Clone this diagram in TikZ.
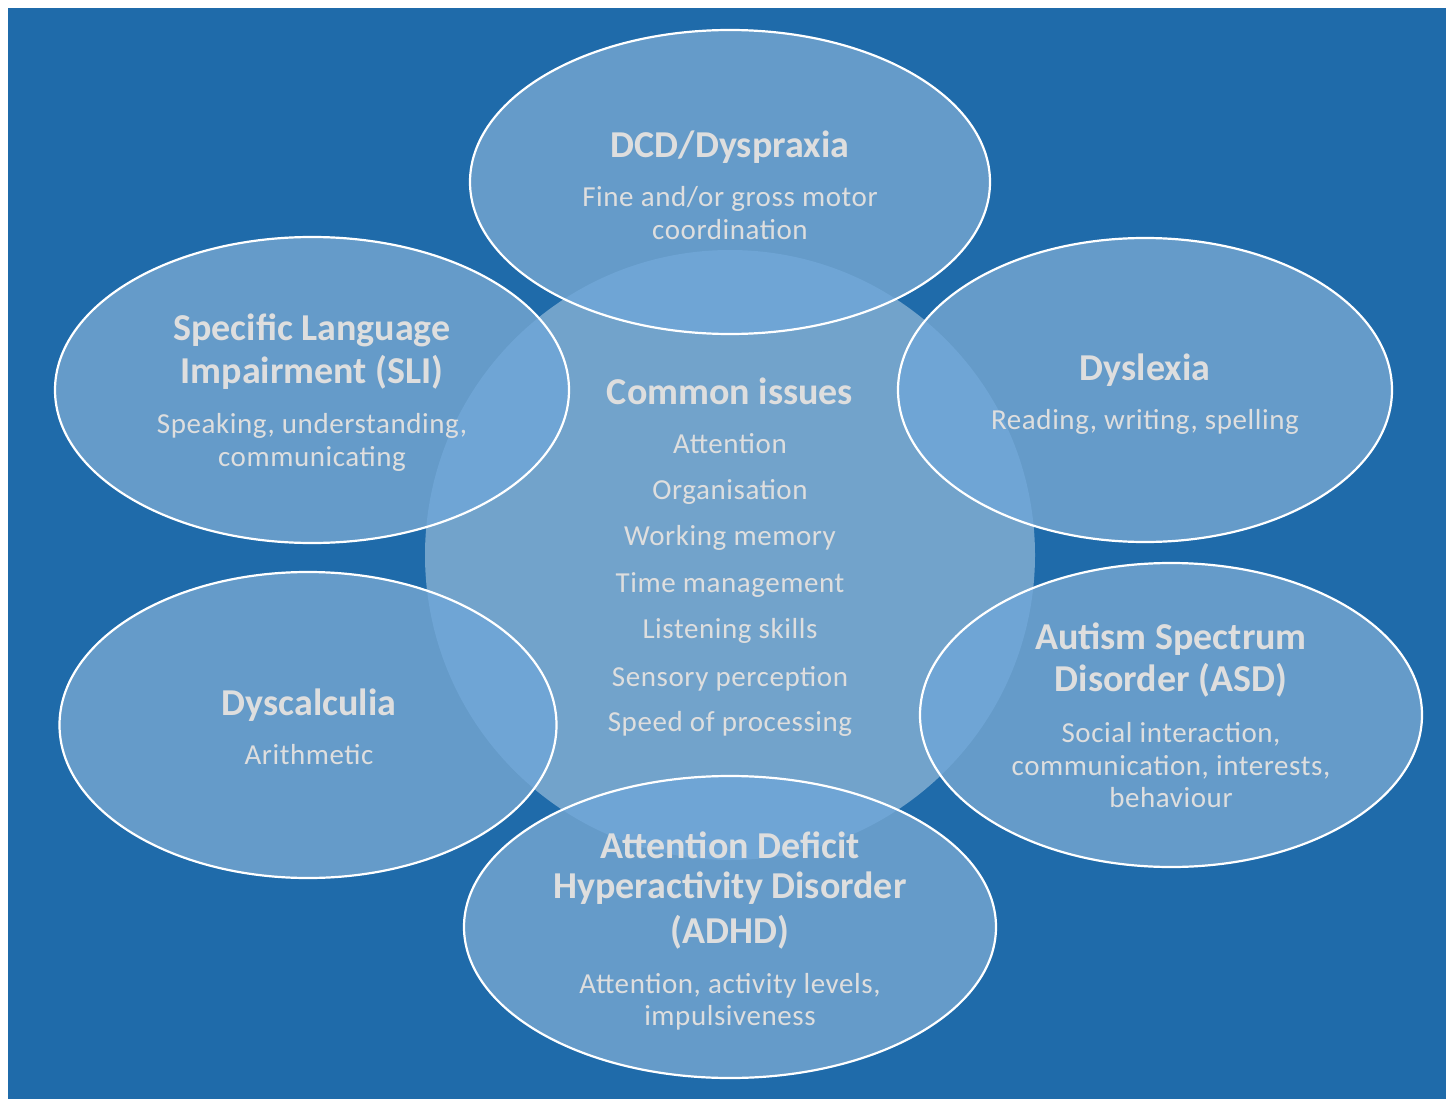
\documentclass[tikz,border=0pt]{standalone}
\usepackage{fontspec}
\setmainfont{Carlito}
\usetikzlibrary{shapes.geometric}
\definecolor{bgblue}{HTML}{1F6BAA}
\definecolor{ellblue}{HTML}{659BC9}
\definecolor{cirblue}{HTML}{72A3CB}
\definecolor{ovlblue}{HTML}{6FA5D5}
\definecolor{txtgray}{HTML}{DEDEDE}
\tikzset{
  bubble/.style={ellipse, inner sep=0pt, fill=ellblue},
  rim/.style={draw=white, line width=2.2pt},
  ttl/.style={anchor=base, inner sep=0pt, text=txtgray, font=\fontsize{38}{45}\selectfont\bfseries},
  sub/.style={anchor=base, inner sep=0pt, text=txtgray, font=\fontsize{29}{34}\selectfont\addfontfeature{LetterSpace=2}},
}
\begin{document}
\begin{tikzpicture}[x=1pt,y=-1pt]
\useasboundingbox (0,0) rectangle (1456,1099);
\fill[white] (0,0) rectangle (1456,1099);
\fill[bgblue] (8,8) rectangle (1446,1099);
% central circle
\node[circle, inner sep=0pt, minimum size=610pt, fill=cirblue] (core) at (730,555) {};
% bubbles
\node[bubble, minimum width=520pt, minimum height=304pt] (dcd) at (730,182) {};
\node[bubble, minimum width=514pt, minimum height=306pt] (sli) at (312,390) {};
\node[bubble, minimum width=494pt, minimum height=304pt] (dys) at (1145,390) {};
\node[bubble, minimum width=497pt, minimum height=306pt] (dyc) at (308,725) {};
\node[bubble, minimum width=502pt, minimum height=304pt] (asd) at (1171,715) {};
\node[bubble, minimum width=532pt, minimum height=302pt] (adhd) at (730,927) {};
% overlaps with the central circle
\begin{scope}
  \clip (core.center) circle (305);
  \fill[ovlblue] (dcd.center) ellipse [x radius=260, y radius=152];
  \fill[ovlblue] (sli.center) ellipse [x radius=257, y radius=153];
  \fill[ovlblue] (dys.center) ellipse [x radius=247, y radius=152];
  \fill[ovlblue] (dyc.center) ellipse [x radius=248.5, y radius=153];
  \fill[ovlblue] (asd.center) ellipse [x radius=251, y radius=152];
  \fill[ovlblue] (adhd.center) ellipse [x radius=266, y radius=151];
\end{scope}
% outlines on top
\draw[rim] (dcd.center) ellipse [x radius=260, y radius=152];
\draw[rim] (sli.center) ellipse [x radius=257, y radius=153];
\draw[rim] (dys.center) ellipse [x radius=247, y radius=152];
\draw[rim] (dyc.center) ellipse [x radius=248.5, y radius=153];
\draw[rim] (asd.center) ellipse [x radius=251, y radius=152];
\draw[rim] (adhd.center) ellipse [x radius=266, y radius=151];
% texts
\node[ttl] (t1) at (730,158) {DCD/Dyspraxia};
\node[sub] (s1a) at (730,207) {Fine and/or gross motor};
\node[sub] (s1b) at (730,240) {coordination};

\node[ttl] (t2a) at (312,340) {Specific Language};
\node[ttl] (t2b) at (312,383) {Impairment (SLI)};
\node[sub] (s2a) at (312,433) {Speaking, understanding,};
\node[sub] (s2b) at (312,466) {communicating};

\node[ttl] (tc) at (730,404) {Common issues};
\node[sub] (c1) at (730,453) {Attention};
\node[sub] (c2) at (730,499) {Organisation};
\node[sub] (c3) at (730,545) {Working memory};
\node[sub] (c4) at (730,592) {Time management};
\node[sub] (c5) at (730,638) {Listening skills};
\node[sub] (c6) at (730,686) {Sensory perception};
\node[sub] (c7) at (730,731) {Speed of processing};

\node[ttl] (t3) at (1145,380) {Dyslexia};
\node[sub] (s3) at (1145,429) {Reading, writing, spelling};

\node[ttl] (t4a) at (1171,649) {Autism Spectrum};
\node[ttl] (t4b) at (1171,691) {Disorder (ASD)};
\node[sub] (s4a) at (1171,742) {Social interaction,};
\node[sub] (s4b) at (1171,775) {communication, interests,};
\node[sub] (s4c) at (1171,807) {behaviour};

\node[ttl] (t5) at (309,715) {Dyscalculia};
\node[sub] (s5) at (309,764) {Arithmetic};

\node[ttl] (t6a) at (730,858) {Attention Deficit};
\node[ttl] (t6b) at (730,898) {Hyperactivity Disorder};
\node[ttl] (t6c) at (730,943) {(ADHD)};
\node[sub] (s6a) at (730,993) {Attention, activity levels,};
\node[sub] (s6b) at (730,1025) {impulsiveness};
\end{tikzpicture}
\end{document}
